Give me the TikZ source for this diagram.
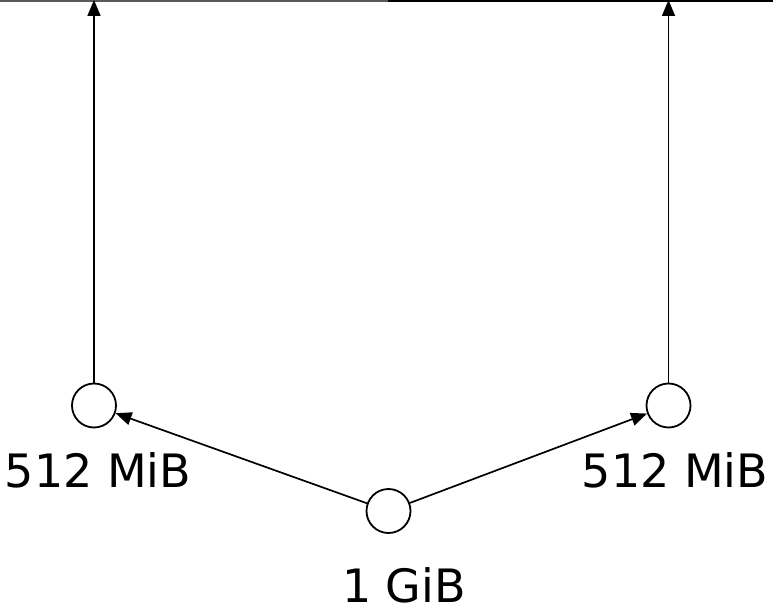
\documentclass[tikz,border=0pt]{standalone}
\usepackage{fontspec}
\setmainfont{DejaVu Sans}
\usetikzlibrary{arrows.meta}

\tikzset{
  vtx/.style={circle, draw, line width=1.8pt, minimum size=44pt, inner sep=0pt},
  size lbl/.style={anchor=base, font=\fontsize{46}{50}\selectfont, inner sep=0pt},
  link/.style={line width=1.7pt, -{Triangle[length=16pt,width=13pt]}}
}

\begin{document}
\begin{tikzpicture}[x=1pt,y=-1pt]
\useasboundingbox (0,0) rectangle (773,609);

% top edge
\draw[line width=2pt, black!65] (0,1) -- (388,1);
\draw[line width=2pt, black] (388,1) -- (773,1);

% blocks
\node[vtx] (root) at (388.5,511) {};
\node[vtx] (left) at (94,405.5) {};
\node[vtx] (right) at (668.5,405.5) {};

\node[size lbl] (rootlbl) at (404,602) {1 GiB};
\node[size lbl] (leftlbl) at (98,487) {512 MiB};
\node[size lbl] (rightlbl) at (675,487) {512 MiB};

\coordinate (leftup) at (94,0);
\coordinate (rightup) at (668.5,0);

% splits
\draw[link] (root) -- (left);
\draw[link] (root) -- (right);
\draw[link] (left) -- (leftup);
\draw[link] (right) -- (rightup);
\end{tikzpicture}
\end{document}
